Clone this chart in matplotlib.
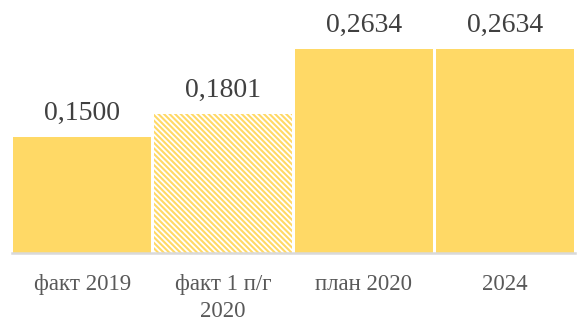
import matplotlib
matplotlib.use('Agg')
import matplotlib.pyplot as plt

categories = ['факт 2019', 'факт 1 п/г\n2020', 'план 2020', '2024']
values = [0.1500, 0.1801, 0.2634, 0.2634]
hatched = [False, True, False, False]

plt.rcParams['font.family'] = ['Liberation Serif', 'DejaVu Serif']
plt.rcParams['hatch.linewidth'] = 1.5

fig = plt.figure(figsize=(5.77, 3.25), dpi=100)
ax = fig.add_axes([12 / 577, 72 / 325, 563 / 577, 253 / 325])

gold = '#FFD966'
x_pos = range(len(categories))
for x, v, h in zip(x_pos, values, hatched):
    if h:
        ax.bar(x, v, width=0.98, color='white', edgecolor=gold, hatch='\\' * 6, linewidth=0)
    else:
        ax.bar(x, v, width=0.98, color=gold, linewidth=0)
    ax.annotate(f'{v:.4f}'.replace('.', ','), (x, v), xytext=(0, 8), textcoords='offset points',
                ha='center', va='bottom', fontsize=20, color='#404040')

ax.set_xlim(-0.5, len(categories) - 0.5)
ax.set_ylim(0, 0.3267)
ax.set_xticks(list(x_pos))
ax.set_xticklabels(categories, fontsize=16.5, color='#595959', linespacing=1.4)
ax.tick_params(axis='x', length=0, pad=15)
ax.set_yticks([])
for side in ['top', 'right', 'left']:
    ax.spines[side].set_visible(False)
ax.spines['bottom'].set_color('#D9D9D9')
ax.spines['bottom'].set_linewidth(1.8)

fig.savefig('out.png', dpi=100)
